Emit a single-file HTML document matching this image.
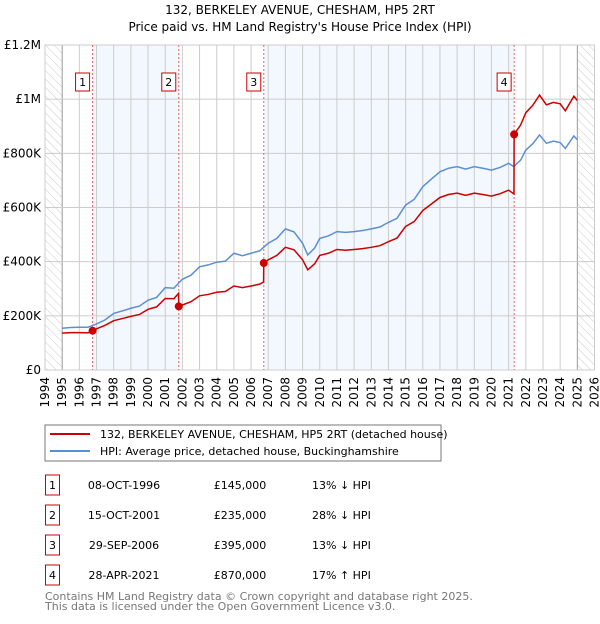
<!DOCTYPE html>
<html><head><meta charset="utf-8"><style>
body{margin:0;background:#fff;width:600px;height:620px;overflow:hidden;font-family:"DejaVu Sans","Liberation Sans",sans-serif}
svg text{font-family:"DejaVu Sans","Liberation Sans",sans-serif}
</style></head><body>
<svg width="600" height="620" viewBox="0 0 600 620">
<defs><pattern id="hatch" width="6" height="6" patternUnits="userSpaceOnUse" patternTransform="rotate(-45)"><line x1="0" y1="0" x2="0" y2="6" stroke="#ccc" stroke-width="1"/></pattern></defs>
<text x="300" y="14" text-anchor="middle" font-size="12">132, BERKELEY AVENUE, CHESHAM, HP5 2RT</text>
<text x="300" y="31" text-anchor="middle" font-size="12">Price paid vs. HM Land Registry's House Price Index (HPI)</text>
<g id="plot"></g>
<rect x="45" y="425" width="396" height="36" fill="#fff" stroke="#777"/>
<line x1="50" y1="434" x2="90" y2="434" stroke="#cc0000" stroke-width="2"/>
<text x="100" y="438" font-size="11">132, BERKELEY AVENUE, CHESHAM, HP5 2RT (detached house)</text>
<line x1="50" y1="451" x2="90" y2="451" stroke="#5b8fd4" stroke-width="2"/>
<text x="100" y="455" font-size="11">HPI: Average price, detached house, Buckinghamshire</text>
<g id="tbl" font-size="11"></g>
<text x="45" y="600" font-size="11" fill="#777">Contains HM Land Registry data © Crown copyright and database right 2025.</text>
<text x="45" y="610" font-size="11" fill="#777">This data is licensed under the Open Government Licence v3.0.</text>
</svg>
<script>
const yearTicks=[1994,1995,1996,1997,1998,1999,2000,2001,2002,2003,2004,2005,2006,2007,2008,2009,2010,2011,2012,2013,2014,2015,2016,2017,2018,2019,2020,2021,2022,2023,2024,2025,2026];
const yTickValues=[0,200000,400000,600000,800000,1000000,1200000];
const yTickLabels=["£0","£200K","£400K","£600K","£800K","£1M","£1.2M"];
const hpiDates=[1995.0,1995.5,1996.0,1996.5,1997.0,1997.5,1998.0,1998.5,1999.0,1999.5,2000.0,2000.5,2001.0,2001.5,2002.0,2002.5,2003.0,2003.5,2004.0,2004.5,2005.0,2005.5,2006.0,2006.5,2007.0,2007.5,2008.0,2008.5,2009.0,2009.3,2009.7,2010.0,2010.5,2011.0,2011.5,2012.0,2012.5,2013.0,2013.5,2014.0,2014.5,2015.0,2015.5,2016.0,2016.5,2017.0,2017.5,2018.0,2018.5,2019.0,2019.5,2020.0,2020.5,2021.0,2021.3,2021.7,2022.0,2022.4,2022.8,2023.2,2023.6,2024.0,2024.3,2024.8,2025.0];
const hpiValues=[154,157,158,158,170,185,209,218,228,236,258,268,304,302,335,350,381,388,398,402,431,422,431,440,468,486,521,510,468,425,450,486,495,511,508,511,515,521,528,545,560,609,630,677,705,732,745,751,742,751,745,738,748,763,751,775,812,835,868,837,845,840,818,864,850];
const priceDates=[1995.0,1995.5,1996.0,1996.5,1996.77,1997.0,1997.5,1998.0,1998.5,1999.0,1999.5,2000.0,2000.5,2001.0,2001.5,2001.78,2001.79,2002.0,2002.5,2003.0,2003.5,2004.0,2004.5,2005.0,2005.5,2006.0,2006.5,2006.73,2006.74,2007.0,2007.5,2008.0,2008.5,2009.0,2009.3,2009.7,2010.0,2010.5,2011.0,2011.5,2012.0,2012.5,2013.0,2013.5,2014.0,2014.5,2015.0,2015.5,2016.0,2016.5,2017.0,2017.5,2018.0,2018.5,2019.0,2019.5,2020.0,2020.5,2021.0,2021.31,2021.32,2021.7,2022.0,2022.4,2022.8,2023.2,2023.6,2024.0,2024.3,2024.8,2025.0];
const priceValues=[136,138,138,137,145,152,165,182,190,198,205,224,233,264,263,283,235,240,252,274,279,287,290,310,304,310,317,325,395,407,423,453,444,407,370,392,423,431,445,442,445,448,453,459,474,487,530,548,589,613,637,648,653,645,653,648,642,651,664,650,870,905,950,977,1015,979,988,983,957,1011,995];
const saleDates=[1996.77,2001.79,2006.74,2021.32];
const saleValues=[145000,235000,395000,870000];
const saleLabels=["1","2","3","4"];
const tblDates=["08-OCT-1996","15-OCT-2001","29-SEP-2006","28-APR-2021"];
const tblPrices=["£145,000","£235,000","£395,000","£870,000"];
const tblHpi=["13% ↓ HPI","28% ↓ HPI","13% ↓ HPI","17% ↑ HPI"];
const X0=45,X1=594.5,Y0=370,Y1=45;
const xs=d=>X0+(d-1994)/32*(X1-X0);
const ys=v=>Y0-v/1200000*(Y0-Y1);
const NS="http://www.w3.org/2000/svg";
const plot=document.getElementById('plot');
function mk(tag,attrs,parent){const e=document.createElementNS(NS,tag);for(const k in attrs)e.setAttribute(k,attrs[k]);(parent||plot).appendChild(e);return e;}
let r;
r=mk('rect',{x:X0,y:Y1,width:X1-X0,height:Y0-Y1,fill:'#fff',stroke:'#ccc'});

for(let i=0;i<saleDates.length;i+=2){
 const a=saleDates[i],b=saleDates[i+1];
 r=mk('rect',{x:xs(a),y:Y1,width:xs(b)-xs(a),height:Y0-Y1,fill:'#eef3fd',opacity:0.7});
 
}
r=mk('rect',{x:X0,y:Y1,width:xs(1995)-X0,height:Y0-Y1,fill:'url(#hatch)'});

r=mk('rect',{x:xs(2025),y:Y1,width:X1-xs(2025),height:Y0-Y1,fill:'url(#hatch)'});

yearTicks.forEach(y=>{
 const x=xs(y);
 let l=mk('line',{x1:x,y1:Y1,x2:x,y2:Y0,stroke:(y==1995||y==2025)?'#999':'#ccc','stroke-width':1});
 
 let t=mk('text',{x:0,y:0,'font-size':12,'text-anchor':'end',transform:`translate(${x+4},${Y0+7}) rotate(-90)`});
 t.textContent=y;
 
});
yTickValues.forEach((v,i)=>{
 const y=ys(v);
 let l=mk('line',{x1:X0,y1:y,x2:X1,y2:y,stroke:'#ccc'});
 
 let t=mk('text',{x:X0-4,y:y+4,'font-size':12,'text-anchor':'end'});
 t.textContent=yTickLabels[i];
 
});
saleDates.forEach((d,i)=>{
 const x=xs(d);
 let l=mk('line',{x1:x,y1:Y1,x2:x,y2:Y0,stroke:'#f06060','stroke-dasharray':'2,2'});
 
 let b=mk('rect',{x:x-17,y:73,width:14,height:18,fill:'#fff',stroke:'#cc0000'});
 
 let t=mk('text',{x:x-10,y:86,'font-size':11,'text-anchor':'middle'});
 t.textContent=saleLabels[i];
 
});
let p=mk('polyline',{points:hpiDates.map((d,i)=>xs(d)+','+ys(hpiValues[i]*1000)).join(' '),fill:'none',stroke:'#5b8fd4','stroke-width':1.5});

p=mk('polyline',{points:priceDates.map((d,i)=>xs(d)+','+ys(priceValues[i]*1000)).join(' '),fill:'none',stroke:'#cc0000','stroke-width':1.5});

saleDates.forEach((d,i)=>{
 let c=mk('circle',{cx:xs(d),cy:ys(saleValues[i]),r:4,fill:'#cc0000'});
 
});
const tbl=document.getElementById('tbl');
tblDates.forEach((d,i)=>{
 const yc=485+i*30;
 let b=mk('rect',{x:45.5,y:yc-10,width:14,height:20,fill:'#fff',stroke:'#cc0000'},tbl);
 
 let t=mk('text',{x:52.5,y:yc+4,'text-anchor':'middle'},tbl);t.textContent=saleLabels[i];
 
 t=mk('text',{x:124,y:yc+4,'text-anchor':'middle'},tbl);t.textContent=d;
 
 t=mk('text',{x:240,y:yc+4,'text-anchor':'middle'},tbl);t.textContent=tblPrices[i];
 
 t=mk('text',{x:312,y:yc+4},tbl);t.textContent=tblHpi[i];
 
});
</script>
</body></html>
